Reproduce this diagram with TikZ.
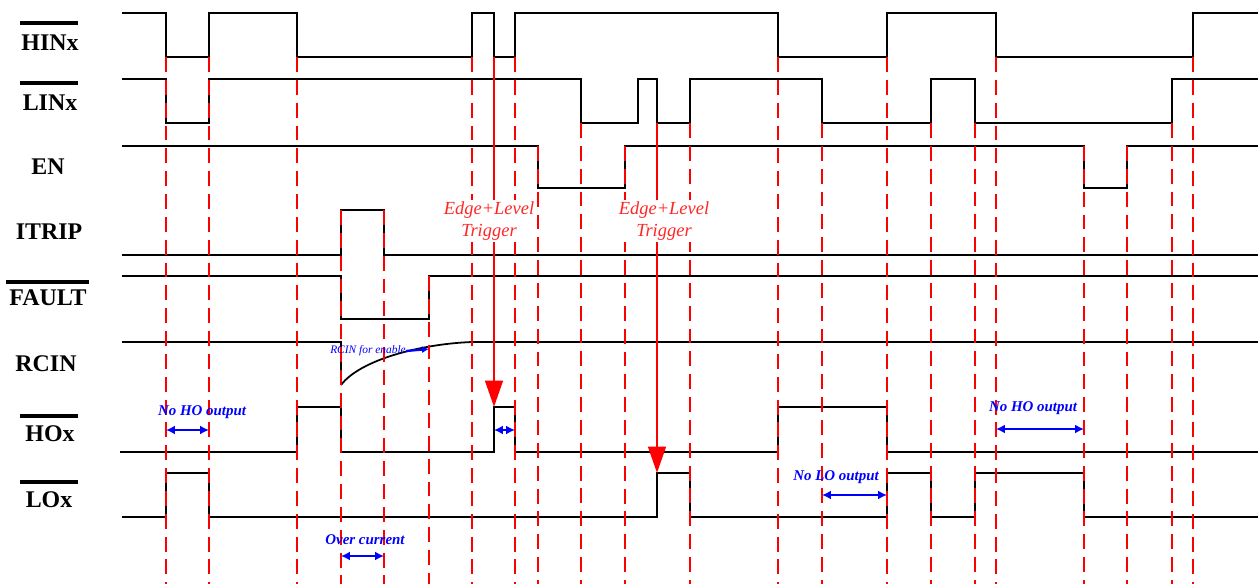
\documentclass[tikz,border=0pt]{standalone}
\usepackage{fontspec}
\setmainfont{Liberation Serif}
\usepackage{xcolor}
\usepackage{tikz}
\usetikzlibrary{arrows.meta}

\begin{document}
\begin{tikzpicture}[
  x=0.02cm, y=-0.02cm,
  >=Stealth,
  every node/.style={font=\small},
  signame/.style={font=\bfseries\fontsize{13.6}{16}\selectfont, inner sep=0pt},
  ovl/.style={line width=1.8pt},
  wave/.style={line width=1.5pt, line join=miter},
  guide/.style={red, line width=1.6pt, dash pattern=on 8.5pt off 4.5pt},
  trig/.style={-{Triangle[length=15pt,width=10pt]}, red, line width=1.5pt},
  trignote/.style={font=\itshape\fontsize{10.5}{12.5}\selectfont, text=red!85,
    fill=white, align=center, inner sep=1pt},
  note/.style={font=\bfseries\itshape\fontsize{8.5}{10}\selectfont, text=blue, inner sep=0pt},
  span/.style={{Latex[length=5pt,width=5pt]}-{Latex[length=5pt,width=5pt]}, blue, line width=1.1pt},
]
\useasboundingbox (0,0) rectangle (1258,584);

% Signal names
\node[signame] (hin) at (50,43) {HINx};
\node[signame] (lin) at (50,103) {LINx};
\node[signame] (en) at (48,167) {EN};
\node[signame] (itrip) at (49,232) {ITRIP};
\node[signame] (fault) at (48,298) {FAULT};
\node[signame] (rcin) at (46,364) {RCIN};
\node[signame] (ho) at (50,434) {HOx};
\node[signame] (lo) at (49,500) {LOx};

% Bars over active-low names
\draw[ovl] (20,23) -- (78,23);
\draw[ovl] (20,83) -- (78,83);
\draw[ovl] (6,282) -- (89,282);
\draw[ovl] (20,416) -- (78,416);
\draw[ovl] (20,482) -- (78,482);

% Waveforms
\draw[wave] (122,13) -- (166,13) -- (166,57) -- (209,57) -- (209,13) -- (297,13) -- (297,57)
  -- (472,57) -- (472,13) -- (494,13) -- (494,57) -- (515,57) -- (515,13) -- (778,13)
  -- (778,57) -- (887,57) -- (887,13) -- (996,13) -- (996,57) -- (1193,57) -- (1193,13) -- (1258,13);
\draw[wave] (122,79) -- (166,79) -- (166,123) -- (209,123) -- (209,79) -- (581,79) -- (581,123)
  -- (638,123) -- (638,79) -- (657,79) -- (657,123) -- (690,123) -- (690,79) -- (822,79)
  -- (822,123) -- (931,123) -- (931,79) -- (975,79) -- (975,123) -- (1172,123) -- (1172,79) -- (1258,79);
\draw[wave] (122,146) -- (538,146) -- (538,188) -- (625,188) -- (625,146) -- (1084,146)
  -- (1084,188) -- (1127,188) -- (1127,146) -- (1258,146);
\draw[wave, line width=1.2pt] (122,255) -- (341,255) -- (341,210) -- (384,210) -- (384,255) -- (1258,255);
\draw[wave, line width=1.2pt] (122,276) -- (341,276) -- (341,319) -- (429,319) -- (429,276) -- (1258,276);
\draw[wave] (122,342) -- (341,342) -- (341,385);
\draw[line width=1pt] (341,385) .. controls (360,360) and (420,344) .. (472,342);
\draw[wave] (472,342) -- (1258,342);
\draw[wave] (120,452) -- (297,452) -- (297,407) -- (341,407) -- (341,452) -- (494,452) -- (494,407)
  -- (515,407) -- (515,452) -- (778,452) -- (778,407) -- (887,407) -- (887,452) -- (1258,452);
\draw[wave, line width=1.2pt] (122,517) -- (166,517) -- (166,473) -- (209,473) -- (209,517) -- (657,517) -- (657,473)
  -- (690,473) -- (690,517) -- (887,517) -- (887,473) -- (931,473) -- (931,517) -- (975,517)
  -- (975,473) -- (1084,473) -- (1084,517) -- (1258,517);

% Timing guides
\draw[guide] (166,57) -- (166,584);
\draw[guide] (209,57) -- (209,584);
\draw[guide] (297,57) -- (297,584);
\draw[guide] (341,210) -- (341,584);
\draw[guide] (384,210) -- (384,584);
\draw[guide] (429,276) -- (429,584);
\draw[guide] (472,57) -- (472,584);
\draw[guide] (515,57) -- (515,584);
\draw[guide] (538,146) -- (538,584);
\draw[guide] (581,123) -- (581,584);
\draw[guide] (625,146) -- (625,584);
\draw[guide] (690,123) -- (690,584);
\draw[guide] (778,57) -- (778,584);
\draw[guide] (822,123) -- (822,584);
\draw[guide] (887,57) -- (887,584);
\draw[guide] (931,123) -- (931,584);
\draw[guide] (975,123) -- (975,584);
\draw[guide] (996,57) -- (996,584);
\draw[guide] (1084,146) -- (1084,584);
\draw[guide] (1127,146) -- (1127,584);
\draw[guide] (1172,123) -- (1172,584);
\draw[guide] (1193,57) -- (1193,584);

% Trigger arrows
\draw[trig] (494,57) -- (494,407);
\draw[trig] (657,123) -- (657,473);
\node[trignote] (trig1) at (489,221) {Edge+Level\\Trigger};
\node[trignote] (trig2) at (664,221) {Edge+Level\\Trigger};

% Annotations
\node[note] (noho1) at (202,412) {No HO output};
\draw[span] (166,430) -- (209,430);
\draw[span] (494,430) -- (515,430);
\node[note, font=\itshape\fontsize{6.5}{7}\selectfont] (rcinen) at (368,351) {RCIN for enable};
\draw[blue, line width=1.3pt, -{Latex[length=4pt,width=4pt]}] (rcinen.east) -- (429,349);
\node[note] (ovc) at (365,540) {Over current};
\draw[span] (341,556) -- (384,556);
\node[note] (nolo) at (836,477) {No LO output};
\draw[span] (822,495) -- (887,495);
\node[note] (noho2) at (1033,408) {No HO output};
\draw[span] (996,429) -- (1084,429);

\end{tikzpicture}
\end{document}
